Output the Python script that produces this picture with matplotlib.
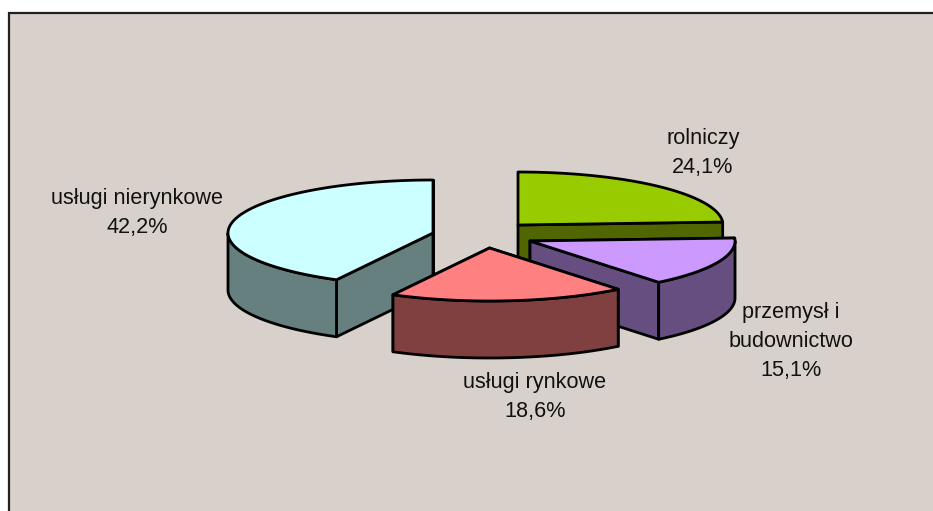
#######################
# Exploded 3D-looking pie chart, drawn by hand because matplotlib pie is flat
#######################

import matplotlib
matplotlib.use( 'Agg' )
import matplotlib.pyplot as plt
from matplotlib.patches import Rectangle
import numpy as np

# Data, clockwise from 12 o'clock
categories = ['rolniczy', 'przemysł i\nbudownictwo', 'usługi rynkowe', 'usługi nierynkowe']
shares = [24.1, 15.1, 18.6, 42.2]

# Colours of the top faces and of the side walls
top_colors = ['#99CC00', '#CC99FF', '#FF8080', '#CCFFFF']
wall_colors = ['#506600', '#664E80', '#804040', '#668080']

# Where each exploded slice has its apex (pixels), and where labels go
apex_x = [518, 530, 489.5, 433]
apex_y = [225, 241, 248, 233]
label_x = [703, 791, 535, 137]
label_y = [153, 341.5, 397, 213]

RX = 205.0
RY = 53.0
DEPTH = 57
EDGE = 2.0
BG = '#D8D0CA'

#######################
# Point on the rim ellipse, angle in degrees clockwise from the top
def rim( cx, cy, angles ):
    a = np.radians( angles )
    return cx + RX*np.sin( a ), cy - RY*np.cos( a )
#######################

#######################
# Draw one slice: the two cut walls, the curved front wall and then the top
def draw_slice( ax, cx, cy, start, end, top_color, wall_color ):
    style = dict( edgecolor='black', linewidth=EDGE, joinstyle='round' )

    for ang in (start, end):
        x, y = rim( cx, cy, np.array( [ang] ) )
        ax.fill( [cx, x[0], x[0], cx], [cy, y[0], y[0]+DEPTH, cy+DEPTH], facecolor=wall_color, **style )

    # only the part of the rim that faces us has a wall
    lo = max( start, 90 )
    hi = min( end, 270 )
    if hi > lo:
        x, y = rim( cx, cy, np.linspace( lo, hi, 100 ) )
        ax.fill( np.r_[x, x[::-1]], np.r_[y, y[::-1]+DEPTH], facecolor=wall_color, **style )

    x, y = rim( cx, cy, np.linspace( start, end, 200 ) )
    ax.fill( np.r_[cx, x], np.r_[cy, y], facecolor=top_color, **style )
#######################

fig = plt.figure()
fig.set_size_inches( 9.33, 5.11 )
ax = fig.add_axes( [0, 0, 1, 1] )
ax.set_xlim( 0, 933 )
ax.set_ylim( 511, 0 )
ax.axis( 'off' )

# Chart area, its right and bottom sides run off the picture
ax.add_patch( Rectangle( (9, 13.5), 940, 510, facecolor=BG, edgecolor='#222222', linewidth=1.6 ) )

edges = np.r_[0, np.cumsum( shares )] / np.sum( shares ) * 360

# Back to front: blue, green, purple and red last
for i in [3, 0, 1, 2]:
    draw_slice( ax, apex_x[i], apex_y[i], edges[i], edges[i+1], top_colors[i], wall_colors[i] )

for i in range( len(categories) ):
    text = '%s\n%s%%' % (categories[i], ('%.1f' % shares[i]).replace( '.', ',' ))
    ax.text( label_x[i], label_y[i], text, ha='center', va='center', family='Liberation Sans',
             fontsize=15.6, color='#111111', linespacing=1.49 )

fig.savefig( 'out.png', dpi=100 )
